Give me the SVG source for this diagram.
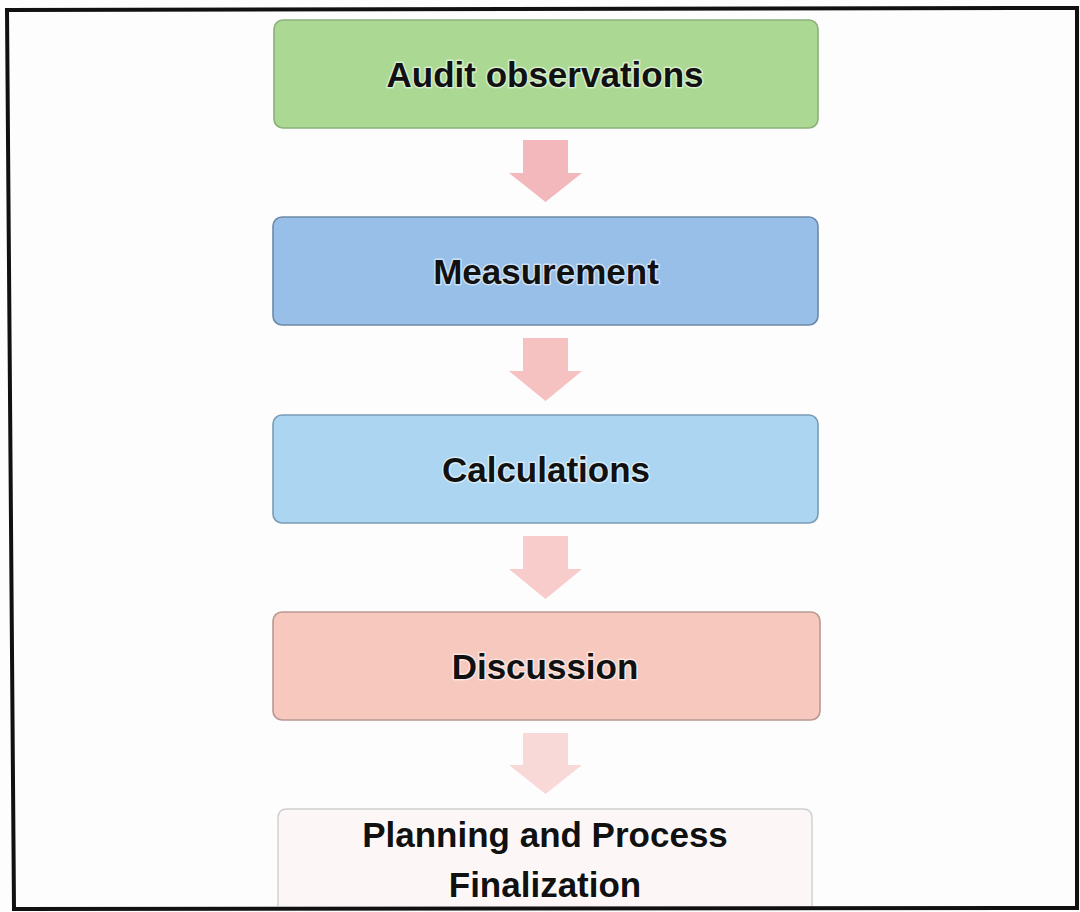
<svg xmlns="http://www.w3.org/2000/svg" width="1080" height="912" viewBox="0 0 1080 912">
<style>
.lbl{font-family:"Liberation Sans",Arial,sans-serif;font-weight:bold;font-size:35px;fill:#111;text-anchor:middle;stroke:#ffffff;stroke-opacity:0.55;stroke-width:3px;paint-order:stroke;stroke-linejoin:round}
.box{stroke-width:1.6}
</style>
<rect x="0" y="0" width="1080" height="912" fill="#fdfdfd"/>
<path d="M7,10 L1077,8 L1077,908 L14,909 Z" fill="none" stroke="#111" stroke-width="4"/>
<g id="connectors">
<polygon points="523,140 568,140 568,173 582,173 545.5,202 509,173 523,173" fill="#f3b8bc"/>
<polygon points="523,338 568,338 568,371 582,371 545.5,401 509,371 523,371" fill="#f5c1c1"/>
<polygon points="523,536 568,536 568,569 582,569 545.5,599 509,569 523,569" fill="#f7cccb"/>
<polygon points="523,733 568,733 568,765 582,765 545.5,794 509,765 523,765" fill="#f9d9d8"/>
</g>
<g id="audit">
<rect class="box" x="274" y="20" width="544" height="108" rx="9" fill="#abd993" stroke="#8bb07a"/>
<text class="lbl" x="545" y="87">Audit observations</text>
</g>
<g id="measurement">
<rect class="box" x="273" y="217" width="545" height="108" rx="9" fill="#97bfe8" stroke="#6d89a8"/>
<text class="lbl" x="546" y="284">Measurement</text>
</g>
<g id="calculations">
<rect class="box" x="273" y="415" width="545" height="108" rx="9" fill="#abd5f0" stroke="#7a9cb4"/>
<text class="lbl" x="546" y="482">Calculations</text>
</g>
<g id="discussion">
<rect class="box" x="273" y="612" width="547" height="108" rx="9" fill="#f7c8bd" stroke="#b89892"/>
<text class="lbl" x="545" y="679">Discussion</text>
</g>
<g id="planning">
<path d="M278,906 L278,818 Q278,809 287,809 L803,809 Q812,809 812,818 L812,906" fill="#fdf6f6" stroke="#cfcfcf" stroke-width="1.4"/>
<text class="lbl" x="545" y="847">Planning and Process</text>
<text class="lbl" x="545" y="897">Finalization</text>
</g>
</svg>
